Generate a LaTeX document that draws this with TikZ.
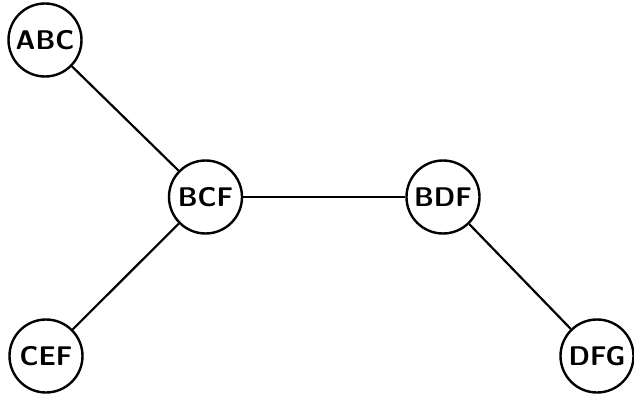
\documentclass[tikz,border=0pt]{standalone}
\begin{document}
\begin{tikzpicture}[x=1pt,y=-1pt,
  vertex/.style={circle,draw,line width=2.4pt,minimum size=73pt,inner sep=0pt,
    font=\sffamily\bfseries\fontsize{27}{32}\selectfont},
  edge/.style={line width=2.2pt}]
  \useasboundingbox (0,0) rectangle (634,398);
  \node[vertex] (abc) at (45,40) {ABC};
  \node[vertex] (bcf) at (205.5,197) {BCF};
  \node[vertex] (bdf) at (443,197) {BDF};
  \node[vertex] (cef) at (46,356) {CEF};
  \node[vertex] (dfg) at (597,356) {DFG};
  \draw[edge] (abc) -- (bcf);
  \draw[edge] (bcf) -- (bdf);
  \draw[edge] (bcf) -- (cef);
  \draw[edge] (bdf) -- (dfg);
\end{tikzpicture}
\end{document}
